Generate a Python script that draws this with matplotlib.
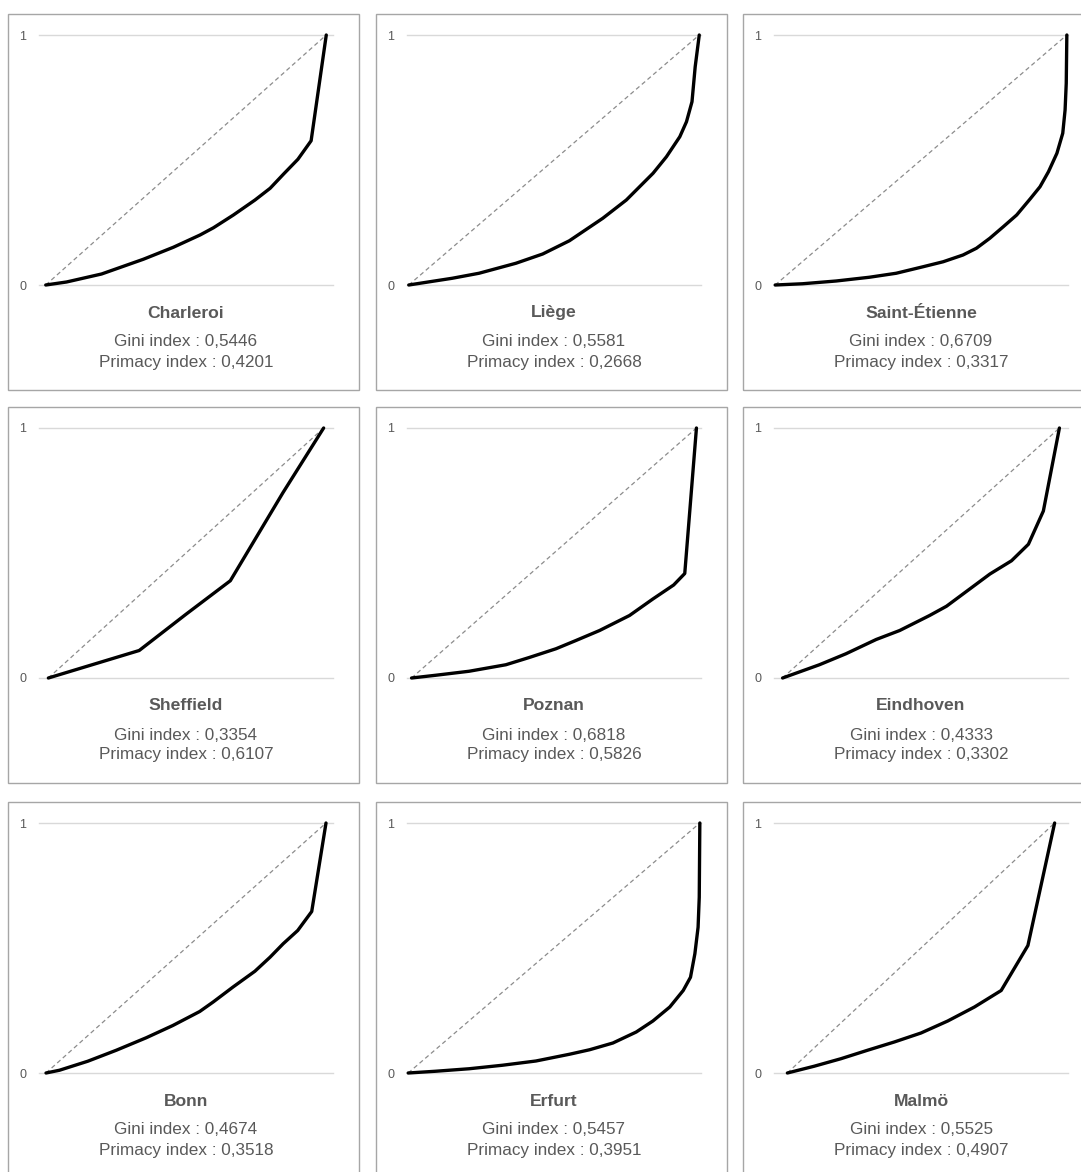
import matplotlib.pyplot as plt
from matplotlib.patches import Rectangle

plt.rcParams['font.family'] = ['Liberation Sans', 'DejaVu Sans']

# Lorenz curves (cumulative share of cities, cumulative share of population)
cities = ["Charleroi", "Liège", "Saint-Étienne",
          "Sheffield", "Poznan", "Eindhoven",
          "Bonn", "Erfurt", "Malmö"]
gini = ["0,5446", "0,5581", "0,6709",
        "0,3354", "0,6818", "0,4333",
        "0,4674", "0,5457", "0,5525"]
primacy = ["0,4201", "0,2668", "0,3317",
           "0,6107", "0,5826", "0,3302",
           "0,3518", "0,3951", "0,4907"]

charleroi_x = [0, 0.074, 0.199, 0.348, 0.455, 0.55, 0.598, 0.669, 0.746, 0.8, 0.848, 0.899, 0.946, 1]
charleroi_y = [0, 0.012, 0.044, 0.103, 0.151, 0.2, 0.229, 0.28, 0.34, 0.387, 0.444, 0.503, 0.577, 1]
liege_x = [0, 0.15, 0.242, 0.369, 0.461, 0.553, 0.668, 0.749, 0.841, 0.887, 0.933, 0.956, 0.975, 0.986, 1]
liege_y = [0, 0.027, 0.047, 0.087, 0.124, 0.177, 0.267, 0.34, 0.447, 0.513, 0.593, 0.653, 0.733, 0.873, 1]
stetienne_x = [0, 0.094, 0.209, 0.323, 0.415, 0.507, 0.576, 0.644, 0.69, 0.736, 0.782, 0.828, 0.874,
               0.908, 0.937, 0.966, 0.986, 0.994, 0.998, 1]
stetienne_y = [0, 0.005, 0.016, 0.031, 0.047, 0.073, 0.093, 0.12, 0.147, 0.187, 0.233, 0.28, 0.344,
               0.393, 0.453, 0.527, 0.607, 0.7, 0.807, 1]
sheffield_x = [0, 0.33, 0.5, 0.661, 0.852, 1]
sheffield_y = [0, 0.11, 0.255, 0.389, 0.741, 1]
poznan_x = [0, 0.085, 0.202, 0.331, 0.413, 0.507, 0.577, 0.66, 0.765, 0.847, 0.92, 0.959, 1]
poznan_y = [0, 0.011, 0.027, 0.053, 0.082, 0.117, 0.15, 0.19, 0.25, 0.316, 0.372, 0.418, 1]
eindhoven_x = [0, 0.133, 0.229, 0.338, 0.423, 0.531, 0.592, 0.676, 0.749, 0.827, 0.888, 0.942, 1]
eindhoven_y = [0, 0.053, 0.097, 0.154, 0.19, 0.25, 0.287, 0.356, 0.416, 0.469, 0.535, 0.668, 1]
bonn_x = [0, 0.048, 0.149, 0.251, 0.358, 0.453, 0.549, 0.597, 0.668, 0.746, 0.8, 0.847, 0.899, 0.949, 1]
bonn_y = [0, 0.011, 0.047, 0.091, 0.141, 0.19, 0.246, 0.284, 0.344, 0.407, 0.463, 0.517, 0.57, 0.646, 1]
erfurt_x = [0, 0.094, 0.209, 0.323, 0.438, 0.553, 0.622, 0.702, 0.782, 0.839, 0.897, 0.943, 0.968,
            0.983, 0.994, 0.998, 1]
erfurt_y = [0, 0.007, 0.017, 0.031, 0.048, 0.075, 0.093, 0.12, 0.164, 0.208, 0.264, 0.33, 0.383,
            0.477, 0.583, 0.703, 1]
malmo_x = [0, 0.1, 0.2, 0.3, 0.4, 0.5, 0.6, 0.7, 0.8, 0.9, 1]
malmo_y = [0, 0.027, 0.057, 0.091, 0.124, 0.16, 0.208, 0.264, 0.33, 0.51, 1]

curves_x = [charleroi_x, liege_x, stetienne_x, sheffield_x, poznan_x, eindhoven_x, bonn_x, erfurt_x, malmo_x]
curves_y = [charleroi_y, liege_y, stetienne_y, sheffield_y, poznan_y, eindhoven_y, bonn_y, erfurt_y, malmo_y]

# half-category padding on the x axis, differs per panel
pad = [0.024, 0.006, 0.004, 0.034, 0.016, 0.031, 0.025, 0.004, 0.05]

W, H = 1081, 1172
fig = plt.figure(figsize=(W / 100, H / 100), dpi=100)

col_left = [8, 376, 743]
row_top = [14, 407, 802]
pw, ph = 351, 376
txt = '#595959'

for i, city in enumerate(cities):
    r, c = divmod(i, 3)
    px, py = col_left[c], row_top[r]

    # panel frame
    fig.patches.append(Rectangle((px / W, 1 - (py + ph) / H), pw / W, ph / H,
                                 transform=fig.transFigure, fill=False,
                                 edgecolor='#a6a6a6', linewidth=1.0))

    ax = fig.add_axes([(px + 31) / W, 1 - (py + 271) / H, 294 / W, 250 / H])
    ax.set_xlim(-pad[i], 1 + pad[i])
    ax.set_ylim(0, 1)
    ax.set_yticks([0, 1])
    ax.set_yticklabels(['0', '1'])
    ax.set_xticks([])
    ax.tick_params(axis='y', length=0, pad=9, labelsize=9, labelcolor=txt)
    for s in ax.spines.values():
        s.set_visible(False)
    ax.axhline(0, color='#d9d9d9', lw=1, zorder=0, clip_on=False)
    ax.axhline(1, color='#d9d9d9', lw=1, zorder=0, clip_on=False)

    ax.plot([0, 1], [0, 1], color='#8c8c8c', lw=0.9, dashes=(3.5, 2.5), zorder=1)
    ax.plot(curves_x[i], curves_y[i], color='black', lw=2.4, zorder=2,
            solid_joinstyle='round', solid_capstyle='round', clip_on=False)

    cx = (px + 31 + 147) / W
    fig.text(cx, 1 - (py + 299) / H, city, ha='center', va='center',
             fontsize=12.6, fontweight='bold', color=txt)
    fig.text(cx, 1 - (py + 328) / H, f"Gini index : {gini[i]}", ha='center', va='center',
             fontsize=12.3, color=txt)
    fig.text(cx, 1 - (py + 348) / H, f"Primacy index : {primacy[i]}", ha='center', va='center',
             fontsize=12.3, color=txt)

fig.savefig('out.png', dpi=100)
